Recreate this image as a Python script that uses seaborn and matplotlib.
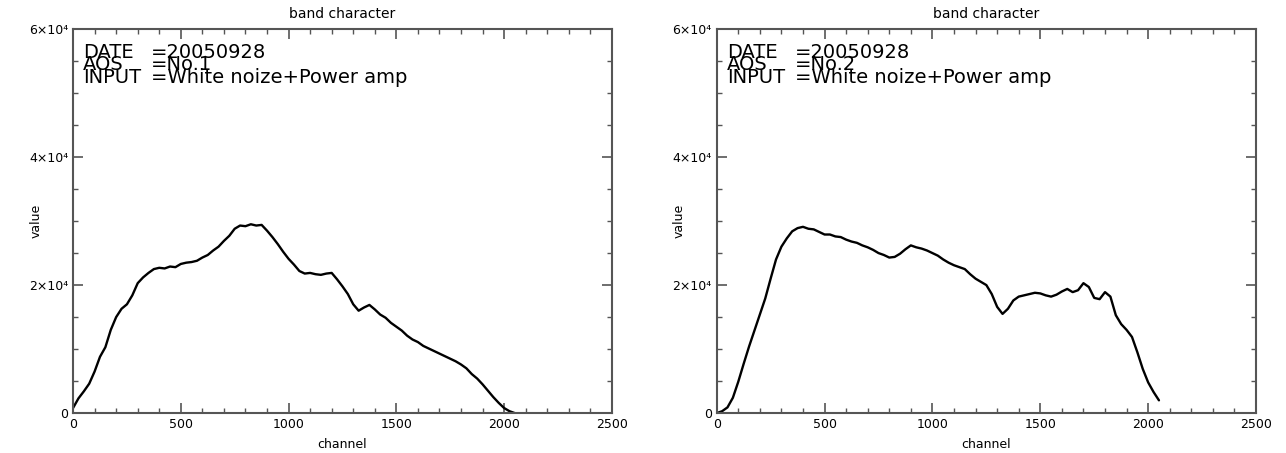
import matplotlib
matplotlib.use("Agg")
import matplotlib.pyplot as plt
import seaborn as sns
import pandas as pd
from matplotlib.ticker import MultipleLocator, FuncFormatter

# channel grid the values were read at
channel = [0, 25, 50, 75, 100, 125, 150, 175, 200, 225, 250, 275, 300, 325, 350, 375,
           400, 425, 450, 475, 500, 525, 550, 575, 600, 625, 650, 675, 700, 725, 750, 775,
           800, 825, 850, 875, 900, 925, 950, 975, 1000, 1025, 1050, 1075, 1100, 1125, 1150,
           1175, 1200, 1225, 1250, 1275, 1300, 1325, 1350, 1375, 1400, 1425, 1450, 1475,
           1500, 1525, 1550, 1575, 1600, 1625, 1650, 1675, 1700, 1725, 1750, 1775, 1800,
           1825, 1850, 1875, 1900, 1925, 1950, 1975, 2000, 2025, 2050]

# AOS No.1
aos1 = [800, 2300, 3400, 4600, 6500, 8800, 10300, 13000, 15000, 16300, 17000, 18400,
        20300, 21200, 21900, 22500, 22700, 22600, 22900, 22800, 23300, 23500, 23600,
        23800, 24300, 24700, 25400, 26000, 26900, 27700, 28800, 29300, 29200, 29500,
        29300, 29400, 28500, 27500, 26400, 25200, 24100, 23200, 22200, 21800, 21900,
        21700, 21600, 21800, 21900, 20900, 19800, 18600, 17000, 16000, 16500, 16900,
        16200, 15400, 14900, 14100, 13500, 12900, 12100, 11500, 11100, 10500, 10100,
        9700, 9300, 8900, 8500, 8100, 7600, 7000, 6100, 5400, 4500, 3500, 2500, 1600,
        800, 300, 0]

# AOS No.2
aos2 = [0, 300, 900, 2400, 4900, 7700, 10400, 12900, 15400, 17900, 21000, 24000,
        26000, 27300, 28400, 28900, 29100, 28800, 28700, 28300, 27900, 27900, 27600,
        27500, 27100, 26800, 26600, 26200, 25900, 25500, 25000, 24700, 24300, 24400,
        24900, 25600, 26200, 25900, 25700, 25400, 25000, 24600, 24000, 23500, 23100,
        22800, 22500, 21700, 21000, 20500, 20000, 18600, 16600, 15500, 16300, 17600,
        18200, 18400, 18600, 18800, 18700, 18400, 18200, 18500, 19000, 19400, 18900,
        19200, 20300, 19700, 18000, 17800, 18900, 18200, 15300, 13900, 13000, 11900,
        9500, 6900, 4800, 3300, 2000]

panels = [("No.1", aos1), ("No.2", aos2)]

sns.set_style("ticks")
plt.rcParams['font.family'] = ['DejaVu Sans']
plt.rcParams['text.color'] = 'black'
plt.rcParams['axes.labelcolor'] = 'black'

fig = plt.figure(figsize=(12.86, 4.53), dpi=100)
axes = [fig.add_axes([0.0568, 0.088, 0.419, 0.848]),
        fig.add_axes([0.5573, 0.088, 0.4194, 0.848])]

def ylab(v, pos):
    if v == 0:
        return "0"
    return f"{int(v / 1e4)}×10⁴"

for ax, (aos, vals) in zip(axes, panels):
    df = pd.DataFrame({"channel": channel, "value": vals})
    sns.lineplot(data=df, x="channel", y="value", ax=ax, color="black", linewidth=1.7)
    ax.set_xlim(0, 2500)
    ax.set_ylim(0, 60000)
    ax.xaxis.set_major_locator(MultipleLocator(500))
    ax.xaxis.set_minor_locator(MultipleLocator(100))
    ax.yaxis.set_major_locator(MultipleLocator(20000))
    ax.yaxis.set_minor_locator(MultipleLocator(5000))
    ax.yaxis.set_major_formatter(FuncFormatter(ylab))
    ax.tick_params(which="both", direction="in", top=True, right=True,
                   color="#555555", labelcolor="black", labelsize=9)
    ax.tick_params(which="major", length=7, width=1.2)
    ax.tick_params(which="minor", length=3.5, width=1.0)
    for s in ax.spines.values():
        s.set_visible(True)
        s.set_color("#555555")
        s.set_linewidth(1.5)
    ax.set_title("band character", fontsize=10, pad=8)
    ax.set_xlabel("channel", fontsize=9, labelpad=5)
    ax.set_ylabel("value", fontsize=9)
    ax.yaxis.set_label_coords(-0.057, 0.5)

    lines = [("DATE", "=20050928", 0.924), ("AOS", "=" + aos, 0.893),
             ("INPUT", "=White noize+Power amp", 0.859)]
    for key, val, yy in lines:
        ax.text(0.019, yy, key, transform=ax.transAxes, fontsize=14, va="baseline",
                ha="left", color="black")
        ax.text(0.145, yy, val, transform=ax.transAxes, fontsize=14, va="baseline",
                ha="left", color="black")

fig.savefig("out.png", dpi=100)
